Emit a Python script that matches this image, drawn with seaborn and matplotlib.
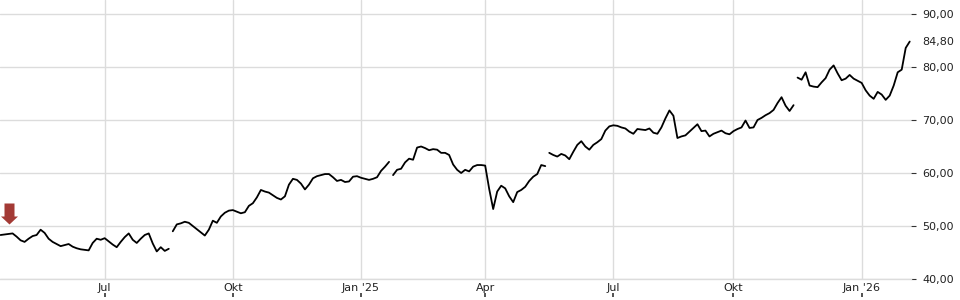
import numpy as np
import pandas as pd
import matplotlib
matplotlib.use("Agg")
import matplotlib.pyplot as plt
import seaborn as sns
from matplotlib.path import Path
from matplotlib.ticker import FuncFormatter

# ---- data ----
period_starts = ["2024-04-15", "2024-07-01", "2024-10-01", "2025-01-01",
                 "2025-04-01", "2025-07-01", "2025-10-01", "2026-01-01", "2026-02-07"]
samples_per_period = [26, 32, 32, 31, 32, 30, 32, 13]

seg_a = [48.3, 48.4, 48.5, 48.6, 48.0, 47.3, 47.0, 47.6, 48.1, 48.3,
         49.3, 48.7, 47.6, 47.0, 46.6, 46.2, 46.4, 46.6, 46.1, 45.8,
         45.6, 45.5, 45.4, 46.8, 47.6, 47.4, 47.7, 47.1, 46.5, 46.0,
         47.0, 47.9, 48.6, 47.4, 46.8, 47.6, 48.3, 48.6, 46.7, 45.2,
         46.0, 45.3, 45.7]
seg_b = [49.0, 50.3, 50.5, 50.8, 50.6, 50.0, 49.4, 48.8, 48.2, 49.3,
         51.0, 50.6, 51.8, 52.5, 52.9, 53.0, 52.7, 52.4, 52.6, 53.8,
         54.3, 55.4, 56.8, 56.5, 56.3, 55.8, 55.3, 55.0, 55.6, 57.8,
         58.9, 58.7, 58.0, 56.9, 57.8, 59.0, 59.4, 59.6, 59.8, 59.8,
         59.2, 58.5, 58.7, 58.3, 58.4, 59.3, 59.4, 59.1, 58.9, 58.7,
         58.9, 59.2, 60.4, 61.2, 62.1]
seg_c = [59.6, 60.6, 60.8, 62.0, 62.7, 62.5, 64.8, 65.0, 64.7, 64.3,
         64.5, 64.4, 63.8, 63.8, 63.4, 61.6, 60.6, 60.0, 60.6, 60.3,
         61.2, 61.5, 61.5, 61.4, 57.0, 53.2, 56.5, 57.6, 57.1, 55.6,
         54.5, 56.4, 56.8, 57.4, 58.5, 59.3, 59.8, 61.5, 61.3]
seg_d = [63.8, 63.4, 63.1, 63.6, 63.3, 62.6, 64.0, 65.3, 66.0, 65.0,
         64.4, 65.3, 65.8, 66.4, 68.0, 68.8, 69.0, 68.9, 68.6, 68.4,
         67.8, 67.4, 68.3, 68.2, 68.1, 68.4, 67.6, 67.4, 68.6, 70.3,
         71.8, 70.8, 66.6, 66.9, 67.1, 67.8, 68.5, 69.2, 67.9, 68.0,
         66.9, 67.4, 67.7, 68.0, 67.5, 67.3, 67.9, 68.3, 68.6, 69.9,
         68.5, 68.6, 70.0, 70.4, 70.9, 71.3, 71.9, 73.2, 74.3, 72.7,
         71.7, 72.8]
seg_e = [78.0, 77.6, 79.0, 76.5, 76.3, 76.2, 77.1, 77.9, 79.5, 80.3,
         78.8, 77.5, 77.8, 78.5, 77.8, 77.4, 77.0, 75.6, 74.6, 74.0,
         75.3, 74.8, 73.8, 74.6, 76.5, 79.0, 79.5, 83.6, 84.8]

y_ticks = [40, 50, 60, 70, 80, 90]
month_names = {1: "Jan", 4: "Apr", 7: "Jul", 10: "Okt"}
signal_index = 2
signal_price = 48.5

# ---- build table ----
segments = [seg_a, seg_b, seg_c, seg_d, seg_e]
prices = np.concatenate([np.asarray(s, dtype=float) for s in segments])
seg_id = np.repeat(np.arange(len(segments)), [len(s) for s in segments])

dates = []
for s, e, n in zip(period_starts[:-1], period_starts[1:], samples_per_period):
    dates.extend(list(pd.date_range(s, e, periods=n + 1)[:-1]))
n = min(len(dates), len(prices))
df = pd.DataFrame({"pos": np.arange(n), "date": dates[:n],
                   "price": prices[:n], "segment": seg_id[:n]})

tick_pos, tick_lab = [], []
for i in range(1, n):
    d, p = df["date"].iloc[i], df["date"].iloc[i - 1]
    if d.month != p.month and d.month in month_names:
        tick_pos.append(i)
        lab = month_names[d.month]
        if d.month == 1:
            lab += " '" + str(d.year)[2:]
        tick_lab.append(lab)

# ---- draw ----
sns.set_style("white")
plt.rcParams["font.family"] = ["DejaVu Sans"]

fig = plt.figure(figsize=(9.6, 3), dpi=100)
ax = fig.add_axes([0, 21 / 300, 911 / 960, 279 / 300])

sns.lineplot(data=df, x="pos", y="price", units="segment", estimator=None,
             color="black", linewidth=1.3, ax=ax, legend=False)

ax.set_xlim(-0.14, 227.32)
ax.set_ylim(40, 92.64)
ax.set_xlabel("")
ax.set_ylabel("")

ax.grid(True, color="#dcdcdc", linewidth=1)
ax.set_axisbelow(True)
for side in ["top", "left", "right"]:
    ax.spines[side].set_visible(False)
ax.spines["bottom"].set_color("#dcdcdc")
ax.spines["bottom"].set_linewidth(1)

ax.set_xticks(tick_pos)
ax.set_xticklabels(tick_lab)
ax.tick_params(axis="x", length=0, pad=3, labelsize=8, labelcolor="#222222")

sec = ax.secondary_xaxis(-14 / 279)
sec.set_xticks(tick_pos)
sec.tick_params(axis="x", bottom=True, top=False, labelbottom=False, labeltop=False,
                length=3, width=1.1, direction="out", color="#222222")
for sp in sec.spines.values():
    sp.set_visible(False)

ax.yaxis.tick_right()
ax.set_yticks(y_ticks)
ax.yaxis.set_major_formatter(FuncFormatter(lambda v, _: f"{v:.2f}".replace(".", ",")))
ax.tick_params(axis="y", length=3.6, width=0.8, pad=4.5, labelsize=8,
               direction="out", color="#333333", labelcolor="#222222")

last = df["price"].iloc[-1]
ax.annotate(f"{last:.2f}".replace(".", ","), xy=(1, last),
            xycoords=("axes fraction", "data"), xytext=(8.1, 0),
            textcoords="offset points", ha="left", va="center",
            fontsize=8, color="#222222", annotation_clip=False)

arrow_verts = [(-5, 31), (5, 31), (5, 18), (8.5, 18), (0, 10), (-8.5, 18), (-5, 18), (-5, 31)]
arrow_codes = [Path.MOVETO] + [Path.LINETO] * 6 + [Path.CLOSEPOLY]
ax.plot([df["pos"].iloc[signal_index]], [signal_price],
        marker=Path(arrow_verts, arrow_codes), markersize=44.64,
        color="#a33a35", markeredgewidth=0, linestyle="none", clip_on=False)

fig.savefig("out.png", dpi=100)
